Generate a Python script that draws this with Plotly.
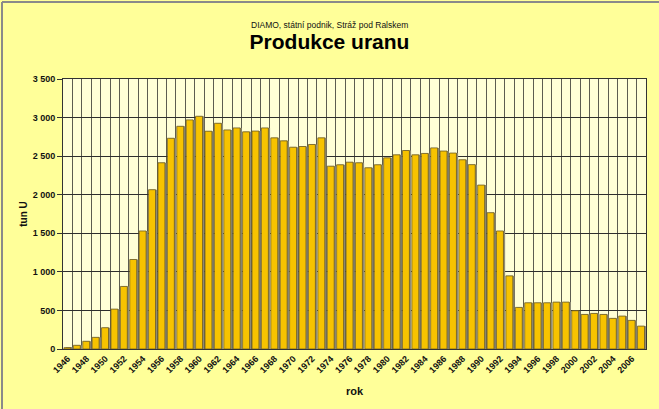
import plotly.graph_objects as go

years = list(range(1946, 2008))
uran = [17, 48, 100, 151, 276, 517, 811, 1160, 1530, 2065,
        2414, 2732, 2887, 2970, 3017, 2823, 2926, 2840, 2866, 2815,
        2825, 2866, 2737, 2698, 2616, 2625, 2651, 2737, 2370, 2388,
        2422, 2414, 2349, 2388, 2478, 2517, 2573, 2517, 2535, 2607,
        2566, 2540, 2453, 2390, 2125, 1767, 1530, 948, 539, 599,
        599, 599, 608, 608, 496, 448, 461, 448, 397, 427,
        371, 297]
tick_years = list(range(1946, 2007, 2))

fig = go.Figure()
# stin za sloupci (3D vzhled jako v Excelu)
fig.add_trace(go.Bar(x=years, y=uran, width=0.74, offset=-0.22,
                     marker=dict(color="#8f8c78", line=dict(width=0)),
                     hoverinfo="skip", showlegend=False))
fig.add_trace(go.Bar(x=years, y=uran, width=0.74, offset=-0.40,
                     marker=dict(color="#f7c300", line=dict(color="#6b5a24", width=0.8)),
                     name="tun U", showlegend=False))

fig.update_layout(
    width=659, height=409,
    margin=dict(l=63, r=13, t=79, b=60, autoexpand=False),
    paper_bgcolor="#ffff99",
    plot_bgcolor="#ffffd6",
    barmode="overlay",
    separators=", ",
    font=dict(family="Liberation Sans, Arial", color="#111111"),
    title=dict(text="Produkce uranu", x=0.5, xref="container", xanchor="center",
               y=1 - 42 / 409, yref="container", yanchor="middle",
               font=dict(size=21, weight="bold", color="#000000")),
)
fig.add_annotation(text="DIAMO, státní podnik, Stráž pod Ralskem",
                   xref="paper", yref="paper", x=(329.5 - 63) / 583, y=1 + (79 - 18) / 270,
                   showarrow=False, font=dict(size=8.5, color="#111111"))

fig.update_xaxes(
    range=[1945.5, 2007.5], automargin=False,
    tickmode="array", tickvals=tick_years, ticktext=[str(y) for y in tick_years],
    tickangle=-45, tickfont=dict(size=9, weight="bold"),
    showgrid=False, showline=True, linecolor="#333333", linewidth=1, mirror=True,
    minor=dict(tick0=1945.5, dtick=1, showgrid=True, gridcolor="#5c5c50", gridwidth=1),
    title=dict(text="rok", font=dict(size=11, weight="bold"), standoff=13),
    zeroline=False,
)
fig.update_yaxes(
    range=[0, 3500], dtick=500, tickformat=",d", automargin=False,
    tickfont=dict(size=9, weight="bold"),
    ticks="outside", ticklen=5, tickcolor="#333333",
    showgrid=True, gridcolor="#2e2e2e", gridwidth=1,
    showline=True, linecolor="#333333", linewidth=1, mirror=True,
    title=dict(text="tun U", font=dict(size=10, weight="bold"), standoff=3),
    zeroline=False,
)

# okraj obrazku nahore a vlevo
fig.add_shape(type="line", xref="paper", yref="paper",
              x0=(2 - 63) / 583, x1=(2 - 63) / 583, y0=-60 / 270, y1=1 + 77 / 270,
              line=dict(color="#8a8a8a", width=2))
fig.add_shape(type="line", xref="paper", yref="paper",
              x0=(2 - 63) / 583, x1=1 + 13 / 583, y0=1 + 77 / 270, y1=1 + 77 / 270,
              line=dict(color="#8a8a8a", width=2))

fig.write_html("out.html", config={"displayModeBar": False},
               post_script="document.body.style.margin='0';")
